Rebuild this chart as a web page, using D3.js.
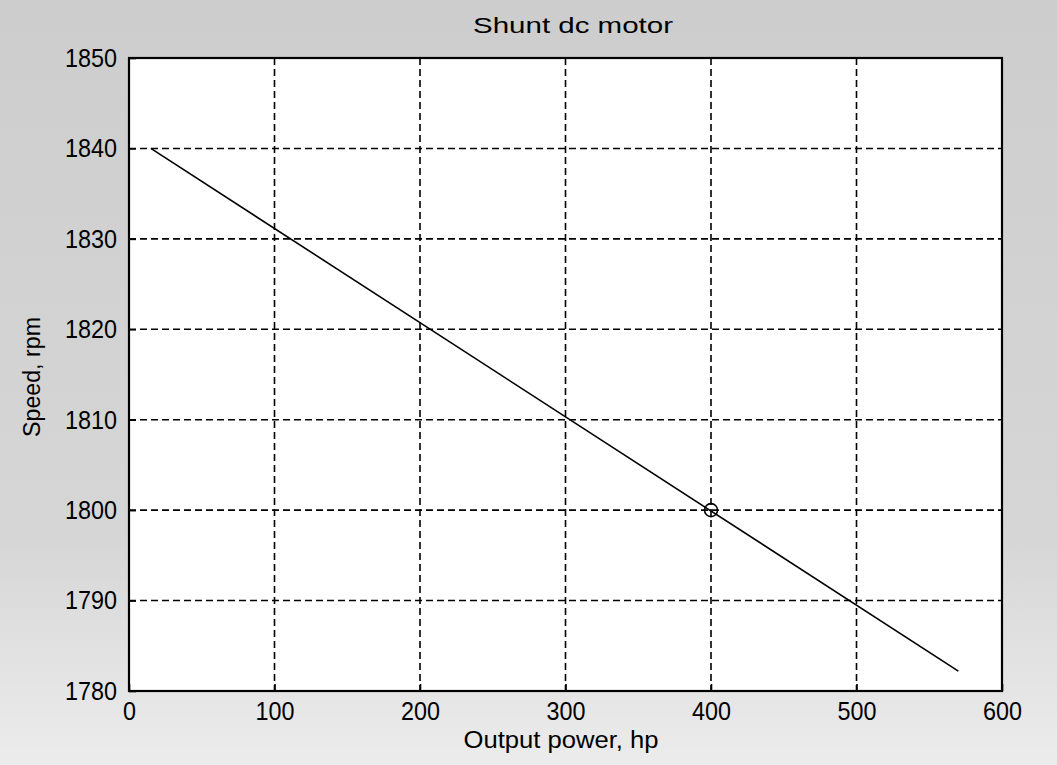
<!DOCTYPE html>
<html>
<head>
<meta charset="utf-8">
<script src="https://cdn.jsdelivr.net/npm/d3@7"></script>
<style>
  body { margin: 0; background: #fff; }
  text { font-family: "Liberation Sans", Arial, sans-serif; fill: #000; }
</style>
</head>
<body>
<div id="chart"></div>
<script>
// data
var powerHp = [15, 570];
var speedRpm = [1840, 1782.2];
var ratedPoint = [400, 1800];
var xTicks = [0, 100, 200, 300, 400, 500, 600];
var yTicks = [1780, 1790, 1800, 1810, 1820, 1830, 1840, 1850];

var width = 1057, height = 765;
var margin = {left: 129, right: 55, top: 58, bottom: 74};

var svg = d3.select("#chart")
  .append("svg")
  .attr("width", width)
  .attr("height", height);

// scanned-paper look
var grad = svg.append("defs").append("linearGradient")
  .attr("id", "paper")
  .attr("x1", 0).attr("y1", 0).attr("x2", 0).attr("y2", 1);
grad.append("stop").attr("offset", "0%").attr("stop-color", "#cdcdcd");
grad.append("stop").attr("offset", "70%").attr("stop-color", "#d6d6d6");
grad.append("stop").attr("offset", "100%").attr("stop-color", "#ececec");

svg.append("rect")
  .attr("width", width)
  .attr("height", height)
  .style("fill", "url(#paper)");

var x = d3.scaleLinear().domain([0, 600]).range([margin.left, width - margin.right]);
var y = d3.scaleLinear().domain([1780, 1850]).range([height - margin.bottom, margin.top]);

svg.append("rect")
  .attr("x", x(0))
  .attr("y", y(1850))
  .attr("width", x(600) - x(0))
  .attr("height", y(1780) - y(1850))
  .style("fill", "white");

// grid
svg.append("g").selectAll("line").data(xTicks.slice(1, -1)).enter()
  .append("line")
  .attr("x1", d => x(d)).attr("x2", d => x(d))
  .attr("y1", y(1850)).attr("y2", y(1780))
  .style("stroke", "black")
  .style("stroke-width", 1.6)
  .style("stroke-dasharray", "7,4");

svg.append("g").selectAll("line").data(yTicks.slice(1, -1)).enter()
  .append("line")
  .attr("x1", x(0)).attr("x2", x(600))
  .attr("y1", d => y(d)).attr("y2", d => y(d))
  .style("stroke", "black")
  .style("stroke-width", 1.6)
  .style("stroke-dasharray", "7,4");

// axes, ticks pointing in like matlab
var xAxis = svg.append("g")
  .attr("transform", "translate(0," + y(1780) + ")")
  .call(d3.axisBottom(x).tickValues(xTicks).tickFormat(d3.format("d"))
    .tickSizeInner(-7).tickSizeOuter(0).tickPadding(11));
var yAxis = svg.append("g")
  .attr("transform", "translate(" + x(0) + ",0)")
  .call(d3.axisLeft(y).tickValues(yTicks).tickFormat(d3.format("d"))
    .tickSizeInner(-7).tickSizeOuter(0).tickPadding(12));

[xAxis, yAxis].forEach(function(a) {
  a.select(".domain").remove();
  a.selectAll("line").style("stroke", "black").style("stroke-width", 1.6);
  a.selectAll("text")
    .attr("font-size", "26px")
    .attr("font-family", "Liberation Sans, Arial, sans-serif")
    .attr("textLength", function() { return 13 * this.textContent.length; })
    .attr("lengthAdjust", "spacingAndGlyphs")
    .style("fill", "black");
});

// frame
svg.append("rect")
  .attr("x", x(0))
  .attr("y", y(1850))
  .attr("width", x(600) - x(0))
  .attr("height", y(1780) - y(1850))
  .style("fill", "none")
  .style("stroke", "black")
  .style("stroke-width", 2.2);

// speed curve
var line = d3.line()
  .x((d, i) => x(powerHp[i]))
  .y(d => y(d));

svg.append("path")
  .datum(speedRpm)
  .attr("d", line)
  .style("fill", "none")
  .style("stroke", "black")
  .style("stroke-width", 1.6);

svg.append("circle")
  .attr("cx", x(ratedPoint[0]))
  .attr("cy", y(ratedPoint[1]))
  .attr("r", 6.5)
  .style("fill", "none")
  .style("stroke", "black")
  .style("stroke-width", 1.6);

// labels
svg.append("text")
  .attr("x", 573)
  .attr("y", 33)
  .attr("text-anchor", "middle")
  .attr("font-size", "22px")
  .attr("textLength", 200)
  .attr("lengthAdjust", "spacingAndGlyphs")
  .text("Shunt dc motor");

svg.append("text")
  .attr("x", 561)
  .attr("y", 748)
  .attr("text-anchor", "middle")
  .attr("font-size", "23px")
  .attr("textLength", 195)
  .attr("lengthAdjust", "spacingAndGlyphs")
  .text("Output power, hp");

svg.append("text")
  .attr("transform", "translate(40,377) rotate(-90)")
  .attr("text-anchor", "middle")
  .attr("font-size", "23px")
  .attr("textLength", 120)
  .attr("lengthAdjust", "spacingAndGlyphs")
  .text("Speed, rpm");
</script>
</body>
</html>
